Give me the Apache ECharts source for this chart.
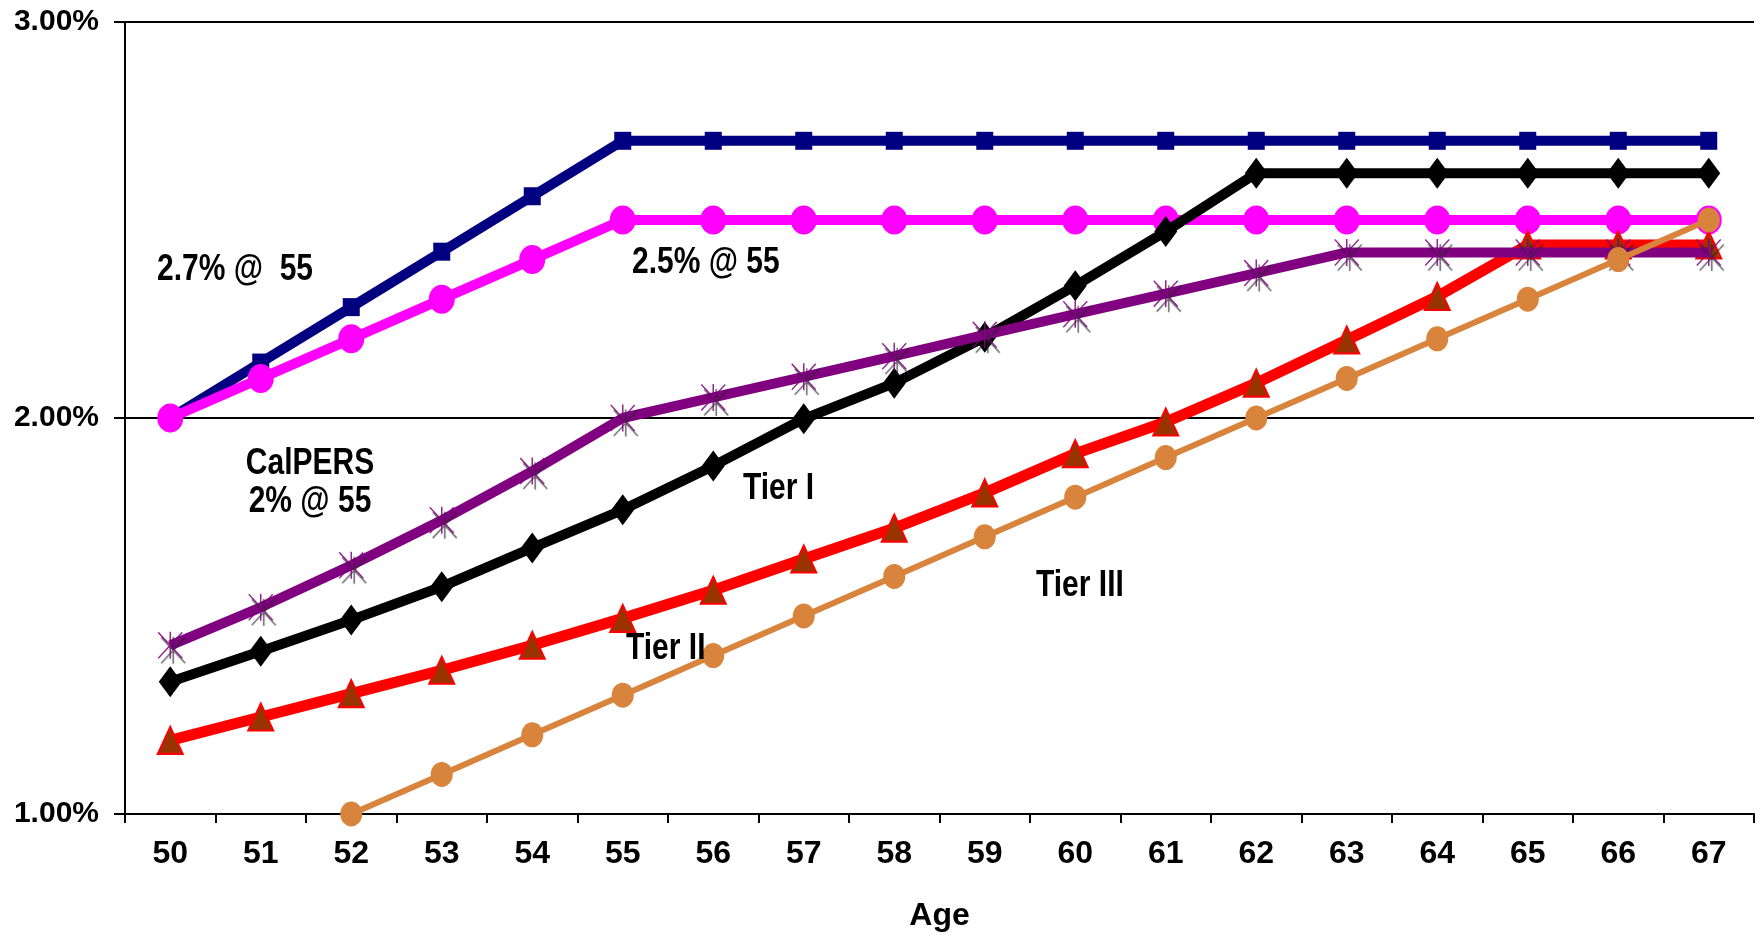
<!DOCTYPE html>
<html>
<head>
<meta charset="utf-8">
<script src="https://cdn.jsdelivr.net/npm/echarts@6/dist/echarts.min.js"></script>
<style>
html,body{margin:0;padding:0;background:#fff;}
#c{width:1760px;height:937px;}
</style>
</head>
<body>
<div id="c"></div>
<script>
const ages = ['50','51','52','53','54','55','56','57','58','59','60','61','62','63','64','65','66','67'];
const yTicks = [1, 2, 3];
const plan27at55 = [2.00, 2.14, 2.28, 2.42, 2.56, 2.70, 2.70, 2.70, 2.70, 2.70, 2.70, 2.70, 2.70, 2.70, 2.70, 2.70, 2.70, 2.70];
const plan25at55 = [2.00, 2.10, 2.20, 2.30, 2.40, 2.50, 2.50, 2.50, 2.50, 2.50, 2.50, 2.50, 2.50, 2.50, 2.50, 2.50, 2.50, 2.50];
const tierI = [1.334, 1.411, 1.490, 1.574, 1.672, 1.768, 1.879, 1.998, 2.088, 2.204, 2.334, 2.471, 2.618, 2.618, 2.618, 2.618, 2.618, 2.618];
const calpers2at55 = [1.426, 1.522, 1.628, 1.742, 1.866, 2.000, 2.052, 2.104, 2.156, 2.210, 2.262, 2.314, 2.366, 2.418, 2.418, 2.418, 2.418, 2.418];
const tierII = [1.186, 1.245, 1.304, 1.363, 1.426, 1.494, 1.565, 1.644, 1.722, 1.811, 1.910, 1.990, 2.088, 2.197, 2.307, 2.437, 2.437, 2.437];
const tierIII = [null, null, 1.00, 1.10, 1.20, 1.30, 1.40, 1.50, 1.60, 1.70, 1.80, 1.90, 2.00, 2.10, 2.20, 2.30, 2.40, 2.50];

const FONT = 'Liberation Sans';
const starPath = 'path://M47,0 L53,0 L53,100 L47,100 Z M4,0 L100,96 L96,100 L0,4 Z M96,0 L100,4 L4,100 L0,96 Z';

function txt(text, x, y, align) {
  return {
    type: 'text', x: x, y: y, scaleY: 1.2, z: 100,
    style: {
      text: text, fill: '#000', font: 'bold 30px "' + FONT + '"',
      textAlign: align || 'left', textVerticalAlign: 'middle', lineHeight: 32
    }
  };
}

const chart = echarts.init(document.getElementById('c'), null, {renderer: 'canvas'});
chart.setOption({
  animation: false,
  backgroundColor: '#fff',
  grid: {left: 125, right: 6, top: 22, bottom: 123, containLabel: false, outerBoundsMode: 'none'},
  xAxis: {
    type: 'category', data: ages, boundaryGap: true,
    name: 'Age', nameLocation: 'middle', nameGap: 86,
    nameTextStyle: {color: '#000', fontFamily: FONT, fontWeight: 'bold', fontSize: 32},
    axisLine: {show: true, lineStyle: {color: '#000', width: 2}},
    axisTick: {show: true, alignWithLabel: false, length: 9, lineStyle: {color: '#000', width: 2}},
    axisLabel: {color: '#000', fontFamily: FONT, fontWeight: 'bold', fontSize: 32, margin: 24, interval: 0},
    splitLine: {show: false}
  },
  yAxis: {
    type: 'value', min: yTicks[0], max: yTicks[yTicks.length - 1], interval: 1,
    axisLine: {show: true, lineStyle: {color: '#000', width: 2}},
    axisTick: {show: true, length: 11, lineStyle: {color: '#000', width: 2}},
    axisLabel: {color: '#000', fontFamily: FONT, fontWeight: 'bold', fontSize: 30, margin: 26,
      formatter: v => v.toFixed(2) + '%'},
    splitLine: {show: true, lineStyle: {color: '#000', width: 2}}
  },
  series: [
    {name: '2.7% @ 55', type: 'line', data: plan27at55, z: 2,
      symbol: 'rect', symbolSize: [17, 18],
      lineStyle: {color: '#000080', width: 10}, itemStyle: {color: '#000080'}},
    {name: '2.5% @ 55', type: 'line', data: plan25at55, z: 3,
      symbol: 'circle', symbolSize: [26, 29],
      lineStyle: {color: '#FF00FF', width: 10}, itemStyle: {color: '#FF00FF'}},
    {name: 'Tier I', type: 'line', data: tierI, z: 4,
      symbol: 'diamond', symbolSize: [23, 31],
      lineStyle: {color: '#000000', width: 10}, itemStyle: {color: '#000000'}},
    {name: 'Tier II', type: 'line', data: tierII, z: 5,
      symbol: 'triangle', symbolSize: [25, 27],
      lineStyle: {color: '#FF0000', width: 11},
      itemStyle: {color: '#993300', borderColor: '#FF0000', borderWidth: 2}},
    {name: 'CalPERS 2% @ 55', type: 'line', data: calpers2at55, z: 6,
      symbol: starPath, symbolSize: [25, 27],
      lineStyle: {color: '#800080', width: 10},
      itemStyle: {color: 'rgba(128,0,128,0.85)', shadowColor: 'rgba(40,40,40,0.85)', shadowOffsetX: 3, shadowOffsetY: 5, shadowBlur: 1}},
    {name: 'Tier III', type: 'line', data: tierIII, z: 7,
      symbol: 'circle', symbolSize: [22, 25],
      lineStyle: {color: '#D8843C', width: 6}, itemStyle: {color: '#D8843C'}}
  ],
  graphic: [
    txt('2.7% @  55', 157, 270),
    txt('2.5% @ 55', 632, 263),
    txt('CalPERS\n2% @ 55', 310, 483, 'center'),
    txt('Tier I', 743, 489),
    txt('Tier III', 1036, 586),
    txt('Tier II', 626, 649)
  ]
});
</script>
</body>
</html>
